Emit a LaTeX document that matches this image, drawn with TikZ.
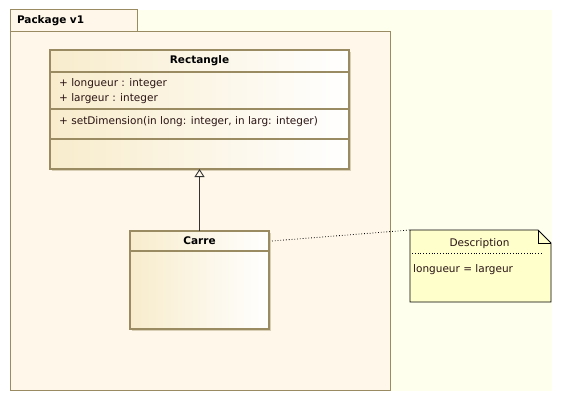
\documentclass[tikz,border=0pt]{standalone}
\usepackage{fontspec}
\setmainfont{DejaVu Sans}
\usetikzlibrary{arrows.meta,positioning,shadows}

\definecolor{umlborder}{HTML}{9A8B62}
\definecolor{pkgfill}{HTML}{FFF8EA}
\definecolor{canvasfill}{HTML}{FFFFEE}
\definecolor{classleft}{HTML}{F8ECCC}
\definecolor{shadowgray}{HTML}{D8CFB6}
\definecolor{notefill}{HTML}{FFFFCC}
\definecolor{membertext}{HTML}{2A1414}

\begin{document}
\begin{tikzpicture}[x=1pt,y=-1pt,>={Triangle[open,width=10pt,length=8pt]},font=\fontsize{10.5}{15}\selectfont]
\tikzstyle{pkg} = [draw=umlborder, fill=pkgfill, line width=1pt, inner sep=0pt, outer sep=0pt, anchor=north west]
\tikzstyle{compart} = [draw=umlborder, line width=1.2pt, left color=classleft, right color=white, inner sep=0pt, outer sep=0pt, drop shadow={shadow xshift=2pt, shadow yshift=-2pt, fill=shadowgray, opacity=1}]
\tikzstyle{classname} = [compart, font=\fontsize{10.5}{15}\selectfont\bfseries]
\tikzstyle{member} = [text=membertext, inner sep=0pt, anchor=base west]
\tikzstyle{notebox} = [minimum width=141pt, minimum height=72pt, inner sep=0pt, outer sep=0pt, anchor=north west]
\tikzstyle{notetext} = [text=membertext, inner sep=0pt]

\useasboundingbox (0,0) rectangle (561,401);
\fill[canvasfill] (10,10) rectangle (552,391);

\node[pkg, minimum width=380pt, minimum height=358pt] (pkgbody) at (10,32) {};
\node[pkg, minimum height=22pt, inner xsep=7pt, text width=113pt, align=left, font=\fontsize{10.5}{15}\selectfont\bfseries] (pkgtab) at (10,10) {Package v1};

\node[classname, minimum width=299pt, minimum height=22pt, anchor=north west] (rectangle) at (50,50) {Rectangle};
\node[compart, minimum width=299pt, minimum height=37pt, below=0pt of rectangle] (rectattr) {};
\node[compart, minimum width=299pt, minimum height=30pt, below=0pt of rectattr] (rectops) {};
\node[compart, minimum width=299pt, minimum height=30pt, below=0pt of rectops] (rectext) {};

\node[member] (longueur) at (59,86.5) {+ longueur : integer};
\node[member] (largeur) at ([yshift=-15.5pt]longueur.base west) {+ largeur : integer};
\node[member] (setdim) at (59,124) {+ setDimension(in long: integer, in larg: integer)};

\node[classname, minimum width=139pt, minimum height=20pt, anchor=north west] (carre) at (130,231) {Carre};
\node[compart, minimum width=139pt, minimum height=78pt, below=0pt of carre] (carrebody) {};

\draw[->, draw=black!80, line width=0.9pt] (carre.north) -- (rectext.south);

\node[notebox] (note) at (410,230) {};
\draw[fill=notefill, line width=0.8pt] (note.north west) -- ([xshift=-13pt]note.north east) -- ([yshift=-13pt]note.north east) -- (note.south east) -- (note.south west) -- cycle;
\draw[line width=0.8pt] ([xshift=-13pt]note.north east) |- ([yshift=-13pt]note.north east);
\node[notetext, anchor=base] (notetitle) at ([xshift=-1pt,yshift=-16pt]note.north) {Description};
\draw[dotted, line width=0.8pt] ([xshift=2pt,yshift=-23pt]note.north west) -- ([xshift=-8pt,yshift=-23pt]note.north east);
\node[notetext, anchor=base west] (noterule) at ([xshift=3pt,yshift=-42pt]note.north west) {longueur = largeur};

\draw[dotted, line width=0.8pt] ([xshift=3pt]carre.east) -- (note.north west);
\end{tikzpicture}
\end{document}
